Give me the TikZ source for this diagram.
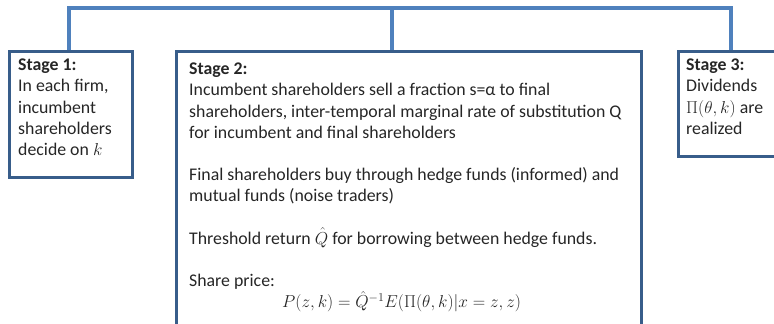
\documentclass[tikz,border=0pt]{standalone}
\usepackage{fontspec}
\setmainfont{Carlito}
\definecolor{busblue}{RGB}{79,129,189}
\definecolor{boxblue}{RGB}{56,93,138}
\begin{document}
\begin{tikzpicture}[x=1pt,y=-1pt,
  stagebox/.style={draw=boxblue, line width=3pt, fill=white, anchor=north west, inner sep=0pt},
  stagetext/.style={anchor=north west, inner sep=0pt, align=left, font=\fontsize{17.8}{21.2}\selectfont, text=black!85},
  bus/.style={draw=busblue, line width=3.2pt, line join=miter, line cap=rect}]
\useasboundingbox (0,0) rectangle (774,324);
\clip (0,0) rectangle (774,324);
% bus
\coordinate (top1) at (69,8);
\coordinate (top2) at (392,8);
\coordinate (top3) at (731,8);
\coordinate (d1) at (69,50);
\coordinate (d2) at (392,50);
\coordinate (d3) at (731,50);
\draw[bus] (d1) -- (top1) -- (top3) -- (d3);
\draw[bus] (top2) -- (d2);
% boxes
\node[stagebox, minimum width=123pt, minimum height=126pt] (b1) at (8,50) {};
\node[stagebox, minimum width=465pt, minimum height=300pt] (b2) at (175,50) {};
\node[stagebox, minimum width=120pt, minimum height=105pt] (b3) at (677,50) {};
% texts
\node[stagetext] (t1) at (18,55.6) {\strut\textbf{Stage 1:}\\In each firm,\\incumbent\\shareholders\\decide on $k$};
\node[stagetext] (t2) at (189,59.6) {\strut\textbf{Stage 2:}\\
Incumbent shareholders sell a fraction s=α to final\\
shareholders, inter-temporal marginal rate of substitution Q\\
for incumbent and final shareholders\\[21.2pt]
Final shareholders buy through hedge funds (informed) and\\
mutual funds (noise traders)\\[21.2pt]
Threshold return $\hat{Q}$ for borrowing between hedge funds.\\[21.2pt]
Share price:\\
\hspace*{93pt}$P(z,k)=\hat{Q}^{-1}E(\Pi(\theta,k)|x=z,z)$};
\node[stagetext] (t3) at (686,55.6) {\strut\textbf{Stage 3:}\\Dividends\\$\Pi(\theta,k)$ are\\realized};
\end{tikzpicture}
\end{document}
